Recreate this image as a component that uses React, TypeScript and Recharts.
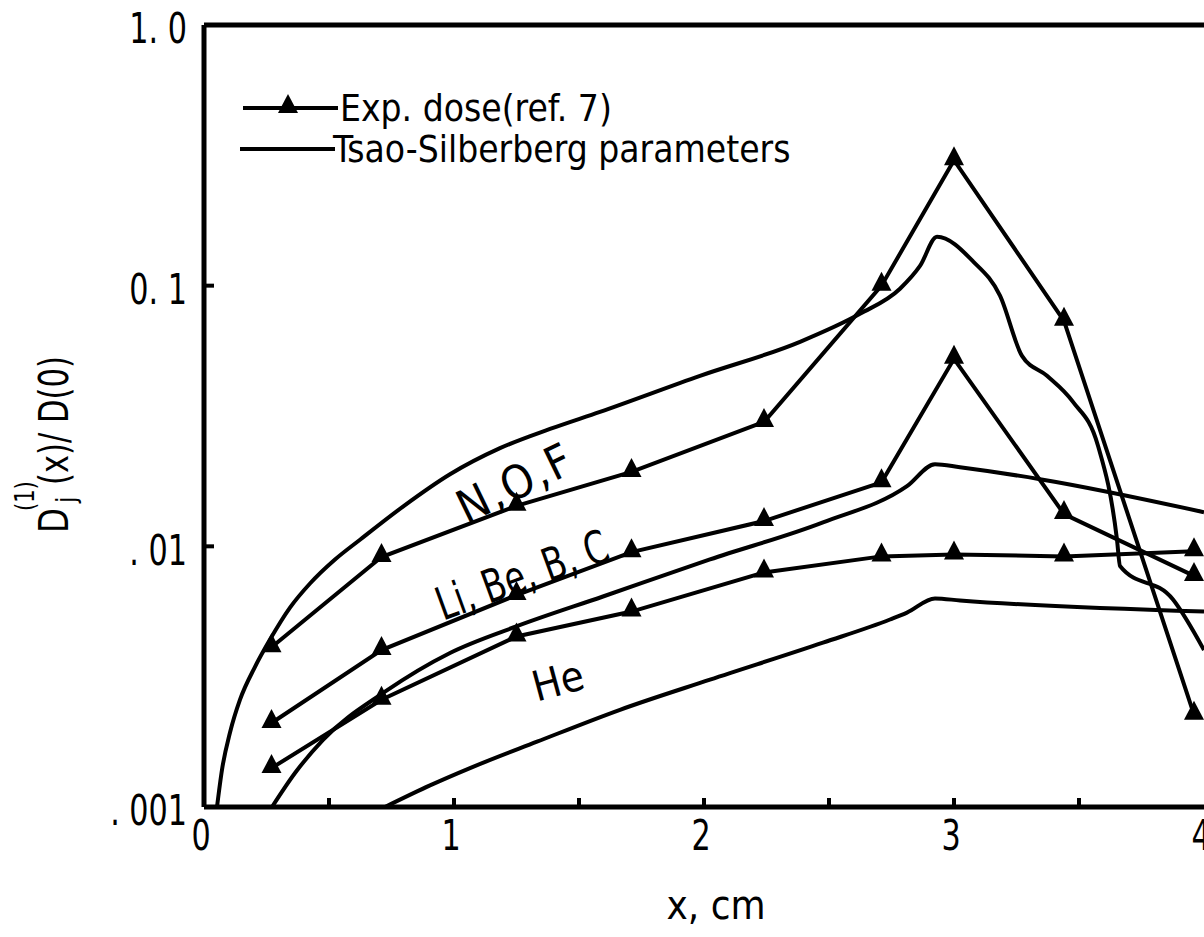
import React from 'react';
import {
  LineChart,
  Line,
  XAxis,
  YAxis,
  ReferenceLine,
  Legend,
  Customized
} from 'recharts';

const FONT = "'Liberation Sans Narrow', 'DejaVu Sans Condensed', 'Open Sans', sans-serif";
const INK = '#000';

// experimental depths (cm) and measured dose fractions
const expDepth = [0.27, 0.71, 1.25, 1.71, 2.24, 2.71, 3.0, 3.44, 3.96];
const expNOF = [0.0041, 0.0091, 0.0143, 0.0193, 0.030, 0.100, 0.303, 0.0733, 0.00226];
const expLiC = [0.0021, 0.0040, 0.0065, 0.0095, 0.0125, 0.0176, 0.0524, 0.0133, 0.0077];
const expHe = [0.00141, 0.00258, 0.00451, 0.00562, 0.00794, 0.00915, 0.00931, 0.00915, 0.00957];

// Tsao-Silberberg curves
const nofTheoryX = [0.052, 0.072, 0.104, 0.144, 0.204, 0.264, 0.344, 0.424, 0.524, 0.624, 0.8, 0.984, 1.184, 1.384, 1.584, 1.984, 2.384, 2.624, 2.784, 2.864, 2.932, 3.076, 3.184, 3.272, 3.372, 3.476, 3.576, 3.652, 3.664, 3.876, 4.0];
const nofTheoryY = [0.001, 0.00139, 0.00193, 0.00258, 0.00345, 0.00439, 0.00582, 0.0072, 0.0089, 0.0106, 0.0143, 0.0189, 0.0238, 0.0282, 0.0328, 0.0451, 0.0609, 0.078, 0.0973, 0.119, 0.154, 0.124, 0.0915, 0.0538, 0.0451, 0.0358, 0.0243, 0.0106, 0.0084, 0.00625, 0.0040];

const licTheoryX = [0.272, 0.364, 0.476, 0.724, 0.984, 1.252, 1.596, 2.024, 2.476, 2.812, 2.924, 3.024, 3.344, 4.0];
const licTheoryY = [0.001, 0.00135, 0.00181, 0.00277, 0.00390, 0.00494, 0.00642, 0.00891, 0.01236, 0.01701, 0.02066, 0.0201, 0.0181, 0.01352];

const heTheoryX = [0.724, 0.904, 1.064, 1.332, 1.664, 2.024, 2.476, 2.744, 2.812, 2.924, 3.024, 4.0];
const heTheoryY = [0.001, 0.00121, 0.00141, 0.00178, 0.00236, 0.00308, 0.00427, 0.00524, 0.00557, 0.00631, 0.0062, 0.00562];

const xTicks = [0, 0.5, 1, 1.5, 2, 2.5, 3, 3.5, 4];
const yTicks = [0.001, 0.01, 0.1, 1];
const yTickLabels: Record<string, string> = { '0.001': '. 001', '0.01': '. 01', '0.1': '0. 1', '1': '1. 0' };

const toPoints = (xs: number[], ys: number[]) => xs.map((x, i) => ({ x, y: ys[i] }));

const triangle = (cx: number, cy: number) =>
  `${cx},${cy - 14} ${cx - 10},${cy + 5} ${cx + 10},${cy + 5}`;

const TriangleDot = (props: any) => {
  const { cx, cy, index } = props;
  if (cx == null || cy == null) return null;
  return <polygon key={index} points={triangle(cx, cy)} fill={INK} />;
};

// narrow lettering, like the typewriter-condensed face of the original
const squeeze = (x: number, y: number, k = 0.8) => `translate(${x},${y}) scale(${k},1)`;

const XTick = ({ x, y, payload }: any) => {
  const v = payload.value;
  return (
    <g>
      {v > 0 && v < 4 && <line x1={x} x2={x} y1={y} y2={y - 9} stroke={INK} strokeWidth={4} />}
      {Number.isInteger(v) && (
        <text transform={squeeze(x - 3, y + 29)} textAnchor="middle" dominantBaseline="central"
          fontFamily={FONT} fontSize={42} fill={INK}>{v}</text>
      )}
    </g>
  );
};

const YTick = ({ x, y, payload }: any) => {
  const v = payload.value;
  return (
    <g>
      {(v === 0.1 || v === 0.01) && <line x1={x} x2={x + 10} y1={y} y2={y} stroke={INK} strokeWidth={4} />}
      <text transform={squeeze(x - 17, y + 4)} textAnchor="end" dominantBaseline="central"
        fontFamily={FONT} fontSize={42} fill={INK}>{yTickLabels[String(v)]}</text>
    </g>
  );
};

const LegendBox = () => (
  <svg width={600} height={95} style={{ display: 'block', overflow: 'visible' }}>
    <line x1={7} x2={102} y1={24} y2={24} stroke={INK} strokeWidth={4} />
    <polygon points={triangle(52, 24)} fill={INK} />
    <text transform={squeeze(104, 37, 0.97)} fontFamily={FONT} fontSize={38} fill={INK}>Exp. dose(ref. 7)</text>
    <line x1={4} x2={99} y1={65} y2={65} stroke={INK} strokeWidth={4} />
    <text transform={squeeze(97, 78, 0.97)} fontFamily={FONT} fontSize={38} fill={INK}>Tsao-Silberberg parameters</text>
  </svg>
);

const Annotations = () => (
  <g fontFamily={FONT} fill={INK}>
    <text transform="translate(515,483) rotate(-26)" textAnchor="middle" dominantBaseline="central" fontSize={46} letterSpacing={2}>N,O,F</text>
    <text transform="translate(522,575) rotate(-20) scale(0.8,1)" textAnchor="middle" dominantBaseline="central" fontSize={46}>Li, Be, B, C</text>
    <text transform="translate(558,681) rotate(-15)" textAnchor="middle" dominantBaseline="central" fontSize={42}>He</text>
    <g transform="translate(68,533) rotate(-90)">
      <text transform={squeeze(0, 0, 0.9)} fontSize={40}>D</text>
      <text transform={squeeze(22, -34, 0.9)} fontSize={26}>(1)</text>
      <text x={30} y={7} fontSize={26}>j</text>
      <text transform={squeeze(48, 0, 0.85)} fontSize={40}>(x)/ D(0)</text>
    </g>
  </g>
);

export default function App() {
  return (
    <div style={{ position: 'absolute', left: 0, top: 0, width: 1204, height: 937, overflow: 'hidden', background: '#fff' }}>
      <LineChart width={1280} height={937} margin={{ top: 25, right: 76, bottom: 0, left: 0 }}>
        <XAxis
          type="number"
          dataKey="x"
          domain={[0, 4]}
          ticks={xTicks}
          interval={0}
          height={130}
          tickSize={0}
          tickMargin={0}
          tickLine={false}
          tick={<XTick />}
          axisLine={{ stroke: INK, strokeWidth: 5 }}
          allowDataOverflow
          label={{ value: 'x, cm', position: 'insideBottom', offset: 18, dx: 12, fontFamily: FONT, fontSize: 40, fill: INK }}
        />
        <YAxis
          type="number"
          scale="log"
          domain={[0.001, 1]}
          ticks={yTicks}
          interval={0}
          width={204}
          tickSize={0}
          tickMargin={0}
          tickLine={false}
          tick={<YTick />}
          axisLine={{ stroke: INK, strokeWidth: 5 }}
          allowDataOverflow
        />
        <ReferenceLine y={1} stroke={INK} strokeWidth={5} />
        <Legend
          layout="vertical"
          align="center"
          verticalAlign="middle"
          content={LegendBox}
          wrapperStyle={{ left: 236, top: 84, width: 600, height: 95 }}
        />

        <Line data={toPoints(nofTheoryX, nofTheoryY)} dataKey="y" name="N,O,F theory" type="monotone"
          stroke={INK} strokeWidth={4} dot={false} activeDot={false} isAnimationActive={false} />
        <Line data={toPoints(licTheoryX, licTheoryY)} dataKey="y" name="Li,Be,B,C theory" type="monotone"
          stroke={INK} strokeWidth={4} dot={false} activeDot={false} isAnimationActive={false} />
        <Line data={toPoints(heTheoryX, heTheoryY)} dataKey="y" name="He theory" type="monotone"
          stroke={INK} strokeWidth={4} dot={false} activeDot={false} isAnimationActive={false} />

        <Line data={toPoints(expDepth, expNOF)} dataKey="y" name="N,O,F exp" type="linear"
          stroke={INK} strokeWidth={4} dot={<TriangleDot />} activeDot={false} isAnimationActive={false} />
        <Line data={toPoints(expDepth, expLiC)} dataKey="y" name="Li,Be,B,C exp" type="linear"
          stroke={INK} strokeWidth={4} dot={<TriangleDot />} activeDot={false} isAnimationActive={false} />
        <Line data={toPoints(expDepth, expHe)} dataKey="y" name="He exp" type="linear"
          stroke={INK} strokeWidth={4} dot={<TriangleDot />} activeDot={false} isAnimationActive={false} />

        <Customized component={Annotations} />
      </LineChart>
    </div>
  );
}
